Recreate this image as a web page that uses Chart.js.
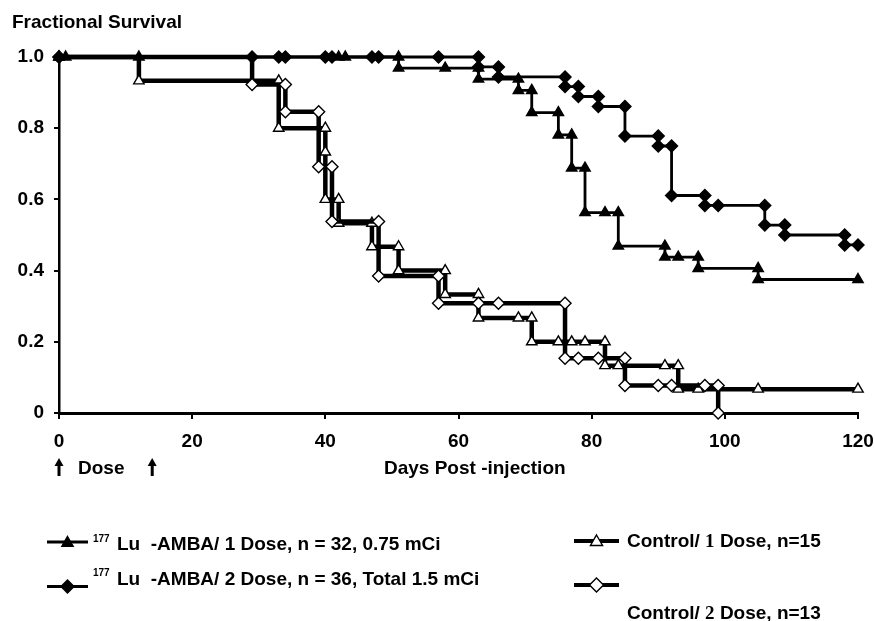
<!DOCTYPE html>
<html><head><meta charset="utf-8">
<script src="https://cdn.jsdelivr.net/npm/chart.js@4.4.1/dist/chart.umd.min.js"></script>
<style>html,body{margin:0;padding:0;background:#fff;}canvas{display:block;}</style>
</head><body>
<canvas id="c" width="875" height="621"></canvas>
<script>
// ---- data ----
const xTickValues = [0, 20, 40, 60, 80, 100, 120];
const yTickValues = [0, 0.2, 0.4, 0.6, 0.8, 1.0];
const doseDays = [0, 14];

const lu1Days = [0, 1, 12, 42, 43, 51, 51, 58, 63, 63, 69, 69, 71, 71, 75, 75, 77, 77, 79, 79, 82, 84, 84, 91, 91, 93, 96, 96, 105, 105, 120];
const lu1Surv = [1, 1, 1, 1, 1, 1, 0.969, 0.969, 0.969, 0.938, 0.938, 0.906, 0.906, 0.844, 0.844, 0.781, 0.781, 0.688, 0.688, 0.563, 0.563, 0.563, 0.469, 0.469, 0.438, 0.438, 0.438, 0.406, 0.406, 0.375, 0.375];

const lu2Days = [0, 29, 33, 34, 40, 41, 47, 48, 57, 63, 63, 66, 66, 76, 76, 78, 78, 81, 81, 85, 85, 90, 90, 92, 92, 97, 97, 99, 106, 106, 109, 109, 118, 118, 120];
const lu2Surv = [1, 1, 1, 1, 1, 1, 1, 1, 1, 1, 0.972, 0.972, 0.944, 0.944, 0.917, 0.917, 0.889, 0.889, 0.861, 0.861, 0.778, 0.778, 0.75, 0.75, 0.611, 0.611, 0.583, 0.583, 0.583, 0.528, 0.528, 0.5, 0.5, 0.472, 0.472];

const ctl1Days = [0, 12, 33, 33, 40, 40, 40, 42, 42, 47, 47, 51, 51, 58, 58, 63, 63, 69, 71, 71, 75, 77, 79, 82, 82, 84, 91, 93, 93, 96, 105, 120];
const ctl1Surv = [1, 0.933, 0.933, 0.8, 0.8, 0.733, 0.6, 0.6, 0.533, 0.533, 0.467, 0.467, 0.4, 0.4, 0.333, 0.333, 0.267, 0.267, 0.267, 0.2, 0.2, 0.2, 0.2, 0.2, 0.133, 0.133, 0.133, 0.133, 0.067, 0.067, 0.067, 0.067];

const ctl2Days = [0, 29, 34, 34, 39, 39, 41, 41, 48, 48, 57, 57, 63, 66, 76, 76, 78, 81, 85, 85, 90, 92, 97, 99, 99];
const ctl2Surv = [1, 0.923, 0.923, 0.846, 0.846, 0.692, 0.692, 0.538, 0.538, 0.385, 0.385, 0.308, 0.308, 0.308, 0.308, 0.154, 0.154, 0.154, 0.154, 0.077, 0.077, 0.077, 0.077, 0.077, 0];

const yAxisTitle = 'Fractional Survival';
const xAxisTitle = 'Days Post -injection';
const doseLabel = 'Dose';
const legendSup = '177';
const legendLu1 = 'Lu  -AMBA/ 1 Dose, n = 32, 0.75 mCi';
const legendLu2 = 'Lu  -AMBA/ 2 Dose, n = 36, Total 1.5 mCi';
const legendCtl1 = ['Control/ ', '1', ' Dose, n=15'];
const legendCtl2 = ['Control/ ', '2', ' Dose, n=13'];

// ---- build ----
const pts = (d, s) => d.map((x, i) => ({x: x, y: s[i]}));
const FONT = '"Liberation Sans", Arial, sans-serif';
const SERIF = '"Liberation Serif", "Times New Roman", serif';
const FS = 19;

function drawMarker(ctx, type, filled, x, y, r) {
  ctx.save();
  ctx.beginPath();
  if (type === 'tri') {
    ctx.moveTo(x, y - r);
    ctx.lineTo(x + r * 0.866, y + r * 0.5);
    ctx.lineTo(x - r * 0.866, y + r * 0.5);
  } else {
    ctx.moveTo(x, y - r);
    ctx.lineTo(x + r, y);
    ctx.lineTo(x, y + r);
    ctx.lineTo(x - r, y);
  }
  ctx.closePath();
  ctx.fillStyle = filled ? '#000' : '#fff';
  ctx.fill();
  ctx.lineWidth = 1.4;
  ctx.strokeStyle = '#000';
  ctx.stroke();
  ctx.restore();
}

const decor = {
  id: 'decor',
  afterDraw(chart) {
    const ctx = chart.ctx;
    const xs = chart.scales.x;
    ctx.save();
    ctx.fillStyle = '#000';
    ctx.textBaseline = 'alphabetic';
    ctx.font = 'bold ' + FS + 'px ' + FONT;
    ctx.fillText(yAxisTitle, 12, 28);
    ctx.fillText(xAxisTitle, 384, 474);
    ctx.fillText(doseLabel, 78, 474);
    // dose arrows
    doseDays.forEach(d => {
      const x = xs.getPixelForValue(d);
      ctx.beginPath();
      ctx.lineWidth = 3;
      ctx.strokeStyle = '#000';
      ctx.moveTo(x, 476); ctx.lineTo(x, 464); ctx.stroke();
      ctx.beginPath();
      ctx.moveTo(x, 458); ctx.lineTo(x + 4.5, 466); ctx.lineTo(x - 4.5, 466); ctx.closePath();
      ctx.fill();
    });
    // legend
    function sample(x1, x2, y, lw, type, filled, r) {
      ctx.beginPath();
      ctx.lineWidth = lw;
      ctx.strokeStyle = '#000';
      ctx.moveTo(x1, y); ctx.lineTo(x2, y); ctx.stroke();
      drawMarker(ctx, type, filled, (x1 + x2) / 2, y + (type === 'tri' ? 1 : 0), r);
    }
    sample(47, 88, 542, 2.8, 'tri', true, 6.5);
    sample(47, 88, 586.5, 2.8, 'dia', true, 6.5);
    sample(574, 619, 541, 4, 'tri', false, 7);
    sample(574, 619, 585, 4, 'dia', false, 7);
    ctx.fillStyle = '#000';
    ctx.font = 'bold 10px ' + FONT;
    ctx.fillText(legendSup, 93, 542);
    ctx.fillText(legendSup, 93, 576);
    ctx.font = 'bold ' + FS + 'px ' + FONT;
    ctx.fillText(legendLu1, 117, 550);
    ctx.fillText(legendLu2, 117, 585);
    function mixed(parts, x, y) {
      ctx.font = 'bold ' + FS + 'px ' + FONT;
      ctx.fillText(parts[0], x, y); x += ctx.measureText(parts[0]).width;
      ctx.font = 'bold ' + FS + 'px ' + SERIF;
      ctx.fillText(parts[1], x, y); x += ctx.measureText(parts[1]).width;
      ctx.font = 'bold ' + FS + 'px ' + FONT;
      ctx.fillText(parts[2], x, y);
    }
    mixed(legendCtl1, 627, 547);
    mixed(legendCtl2, 627, 619);
    ctx.restore();
  }
};

const common = {stepped: 'before', clip: false, pointBorderColor: '#000', borderColor: '#000', pointBorderWidth: 1.4, pointHoverRadius: 0};

new Chart(document.getElementById('c'), {
  type: 'line',
  data: {
    datasets: [
      Object.assign({}, common, {label: legendLu1, data: pts(lu1Days, lu1Surv), borderWidth: 2.8, pointStyle: 'triangle', pointRadius: 6, pointBackgroundColor: '#000', order: 1}),
      Object.assign({}, common, {label: legendLu2, data: pts(lu2Days, lu2Surv), borderWidth: 2.8, pointStyle: 'rectRot', pointRadius: 6, pointBackgroundColor: '#000', order: 0}),
      Object.assign({}, common, {label: legendCtl1.join(''), data: pts(ctl1Days, ctl1Surv), borderWidth: 4.5, pointStyle: 'triangle', pointRadius: 6, pointBackgroundColor: '#fff', order: 3}),
      Object.assign({}, common, {label: legendCtl2.join(''), data: pts(ctl2Days, ctl2Surv), borderWidth: 4.5, pointStyle: 'rectRot', pointRadius: 6, pointBackgroundColor: '#fff', order: 2})
    ]
  },
  options: {
    responsive: false,
    animation: false,
    devicePixelRatio: 1,
    events: [],
    layout: {padding: {left: 0, top: 57, right: 17, bottom: 168}},
    plugins: {legend: {display: false}, tooltip: {enabled: false}},
    scales: {
      x: {
        type: 'linear', min: 0, max: 120,
        afterFit: s => { s.height = 40; s.paddingLeft = 0; s.paddingRight = 0; },
        afterBuildTicks: s => { s.ticks = xTickValues.map(v => ({value: v})); },
        ticks: {color: '#000', font: {family: FONT, size: FS, weight: 'bold'}, padding: 11, maxRotation: 0, callback: v => String(v)},
        grid: {drawOnChartArea: false, drawTicks: true, tickLength: 6, color: '#000', lineWidth: 2},
        border: {color: '#000', width: 3}
      },
      y: {
        type: 'linear', min: 0, max: 1,
        afterFit: s => { s.width = 59; s.paddingTop = 0; s.paddingBottom = 0; },
        afterBuildTicks: s => { s.ticks = yTickValues.map(v => ({value: v})); },
        ticks: {color: '#000', font: {family: FONT, size: FS, weight: 'bold'}, padding: 10, callback: v => v === 0 ? '0' : v.toFixed(1)},
        grid: {drawOnChartArea: false, drawTicks: true, tickLength: 5, color: '#000', lineWidth: 2},
        border: {color: '#000', width: 2.5}
      }
    }
  },
  plugins: [decor]
});
</script>
</body></html>
